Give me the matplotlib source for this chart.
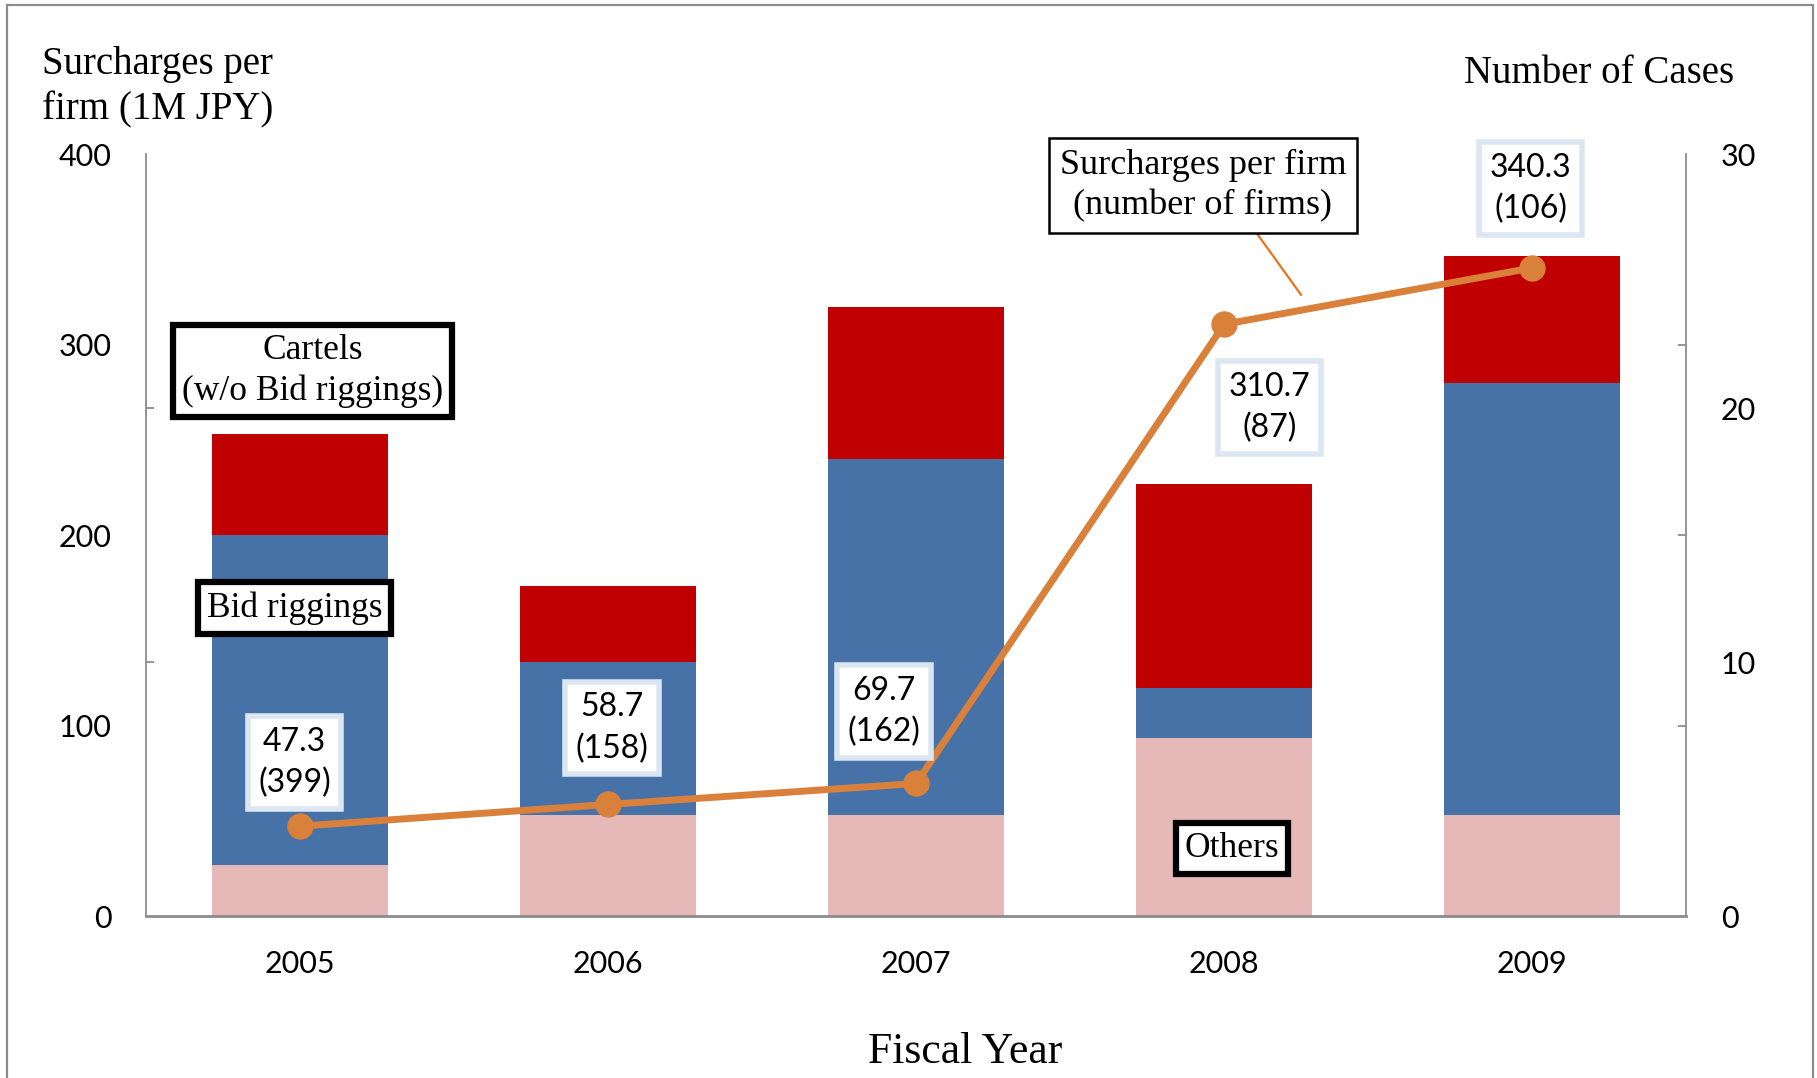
import matplotlib.pyplot as plt
from matplotlib.patches import Rectangle
import numpy as np

# data
years = ["2005", "2006", "2007", "2008", "2009"]
others = [2, 4, 4, 7, 4]          # number of cases
bid_riggings = [13, 6, 14, 2, 17]
cartels = [4, 3, 6, 8, 5]
surcharge = [47.3, 58.7, 69.7, 310.7, 340.3]   # 1M JPY per firm
firms = [399, 158, 162, 87, 106]

# label offsets (points) of the value boxes from their markers
label_offsets = [(-4, 46), (2.5, 55), (-23, 52), (32.5, -60), (-1, 57)]

pink = "#E6B9B8"
blue = "#4672A7"
red = "#C00000"
orange = "#D9813A"
gray = "#8C8C8C"
sans = "Lato"
serif = "Liberation Serif"

fig = plt.figure(figsize=(18.17, 10.78), dpi=100)
ax = fig.add_axes([0.0804, 0.150, 0.8476, 0.707])
ax2 = ax.twinx()
# bars behind, line in front
ax2.set_zorder(ax.get_zorder() - 1)
ax.patch.set_visible(False)

x = np.arange(len(years))
w = 0.57
b1 = np.array(others)
b2 = b1 + np.array(bid_riggings)
ax2.bar(x, others, w, color=pink)
ax2.bar(x, bid_riggings, w, bottom=b1, color=blue)
ax2.bar(x, cartels, w, bottom=b2, color=red)

ax.plot(x, surcharge, color=orange, lw=5, marker="o", ms=18, zorder=5)

for i in range(len(years)):
    ax.annotate(f"{surcharge[i]}\n({firms[i]})", xy=(x[i], surcharge[i]),
                xytext=label_offsets[i], textcoords="offset points",
                ha="center", va="center", fontsize=23, family=sans,
                linespacing=1.45, zorder=6,
                bbox=dict(boxstyle="square,pad=0.33", fc="white",
                          ec="#DCE6F2", lw=4))

# axes limits and ticks
ax.set_xlim(-0.5, 4.5)
ax.set_ylim(0, 400)
ax2.set_ylim(0, 30)
left_ticks = np.array([0, 100, 200, 300, 400])
right_ticks = np.array([0, 10, 20, 30])
ax.set_yticks(left_ticks)
ax2.set_yticks(right_ticks)
# Excel draws each axis' tick marks at the other axis' gridline positions
ax.set_yticks(right_ticks[1:] * 400 / 30, minor=True)
ax2.set_yticks(left_ticks[1:] * 30 / 400, minor=True)
ax.set_xticks(x, years)

for a in (ax, ax2):
    a.tick_params(axis="y", which="major", length=0, labelsize=22, pad=25)
    a.tick_params(axis="y", which="minor", direction="in", length=6,
                  width=1.3, color=gray)
    for lab in a.get_yticklabels():
        lab.set_family(sans)
ax.tick_params(axis="x", length=0, labelsize=22, pad=24)
for lab in ax.get_xticklabels():
    lab.set_family(sans)

ax.spines["top"].set_visible(False)
ax.spines["right"].set_visible(False)
ax.spines["left"].set_color(gray)
ax.spines["left"].set_linewidth(1.3)
ax.spines["bottom"].set_color(gray)
ax.spines["bottom"].set_linewidth(2)
for s in ("top", "left", "bottom"):
    ax2.spines[s].set_visible(False)
ax2.spines["right"].set_color(gray)
ax2.spines["right"].set_linewidth(1.3)

# axis titles
fig.text(0.0231, 0.919, "Surcharges per\nfirm (1M JPY)", ha="left", va="center",
         fontsize=28, family=serif, linespacing=1.3)
fig.text(0.9543, 0.932, "Number of Cases", ha="right", va="center",
         fontsize=28, family=serif)
fig.text(0.531, 0.024, "Fiscal Year", ha="center", va="center",
         fontsize=31.5, family=serif)

# category call-out boxes
thick = dict(boxstyle="square,pad=0.25", fc="white", ec="black", lw=4.5)
fig.text(0.172, 0.656, "Cartels\n(w/o Bid riggings)", ha="center", va="center",
         fontsize=25.5, family=serif, linespacing=1.3, bbox=thick)
fig.text(0.162, 0.436, "Bid riggings", ha="center", va="center",
         fontsize=25.5, family=serif, bbox=thick)
fig.text(0.678, 0.213, "Others", ha="center", va="center",
         fontsize=25.5, family=serif, bbox=thick)

# series call-out with leader line to the line
x_lead = x[3] + 0.25
y_lead = surcharge[3] + 0.25 * (surcharge[4] - surcharge[3]) + 8
ax.annotate("Surcharges per firm\n(number of firms)", xy=(x_lead, y_lead),
            xytext=(0.662, 0.828), textcoords="figure fraction",
            ha="center", va="center", fontsize=26, family=serif,
            linespacing=1.28, zorder=7,
            bbox=dict(boxstyle="square,pad=0.3", fc="white", ec="black", lw=1.8),
            arrowprops=dict(arrowstyle="-", color="#E8731E", lw=1.6,
                            shrinkA=0, shrinkB=0, relpos=(0.66, 0)))

# outer frame of the chart area
fig.patches.append(Rectangle((7 / 1817, -0.01), 1806 / 1817, 1 - 5 / 1078 + 0.01,
                             transform=fig.transFigure, fill=False,
                             ec="#8C8C8C", lw=1.6))

fig.savefig("out.png", dpi=100)
